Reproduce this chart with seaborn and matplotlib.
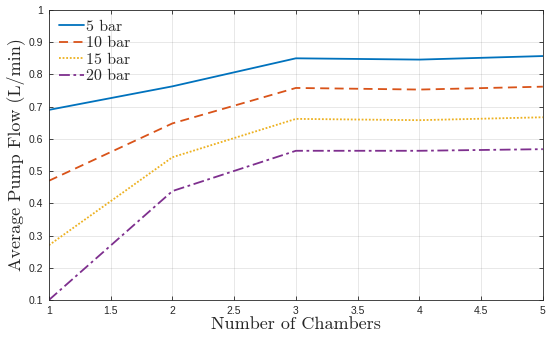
import matplotlib
matplotlib.use("Agg")
import matplotlib.pyplot as plt
import seaborn as sns
import pandas as pd

# data
chambers = [1, 2, 3, 4, 5]
flow_5bar = [0.69, 0.763, 0.850, 0.846, 0.857]
flow_10bar = [0.470, 0.648, 0.758, 0.753, 0.762]
flow_15bar = [0.270, 0.543, 0.662, 0.658, 0.667]
flow_20bar = [0.100, 0.438, 0.563, 0.563, 0.568]
series_names = ["5 bar", "10 bar", "15 bar", "20 bar"]

df = pd.DataFrame({
    "chambers": chambers * 4,
    "flow": flow_5bar + flow_10bar + flow_15bar + flow_20bar,
    "pressure": [n for n in series_names for _ in chambers],
})

sns.set_theme(style="whitegrid")
plt.rcParams["font.family"] = ["Liberation Sans", "DejaVu Sans"]

colors = ["#0072BD", "#D95319", "#EDB120", "#7E2F8E"]
palette = dict(zip(series_names, colors))
dashes = dict(zip(series_names, ["", (5, 3), (1, 1), (6, 2, 1.5, 2)]))

fig = plt.figure(figsize=(5.5, 3.44), dpi=100)
ax = fig.add_axes([0.089, 0.128, 0.898, 0.843])
sns.lineplot(data=df, x="chambers", y="flow", hue="pressure", style="pressure",
             palette=palette, dashes=dashes, linewidth=1.3, ax=ax)

ax.set_xlim(1, 5)
ax.set_ylim(0.1, 1.0)
ax.set_xticks([1, 1.5, 2, 2.5, 3, 3.5, 4, 4.5, 5])
ax.set_xticklabels(["1", "1.5", "2", "2.5", "3", "3.5", "4", "4.5", "5"])
ax.set_yticks([0.1, 0.2, 0.3, 0.4, 0.5, 0.6, 0.7, 0.8, 0.9, 1.0])
ax.set_yticklabels(["0.1", "0.2", "0.3", "0.4", "0.5", "0.6", "0.7", "0.8", "0.9", "1"])

ax.set_facecolor("white")
ax.grid(True, color="#262626", alpha=0.12, linewidth=0.6)
for side in ax.spines.values():
    side.set_visible(True)
    side.set_color("#262626")
    side.set_linewidth(0.6)
ax.tick_params(direction="in", length=3, width=0.6, color="#262626",
               labelsize=7.5, labelcolor="#262626", top=True, right=True,
               bottom=True, left=True, pad=4)

ax.set_xlabel("Number of Chambers", fontname="cmr10", fontsize=13, color="#262626", labelpad=1)
ax.set_ylabel("Average Pump Flow (L/min)", fontname="cmr10", fontsize=13, color="#262626", labelpad=3)

leg = ax.legend(loc="upper left", frameon=False, prop={"family": "cmr10", "size": 11.5},
                handlelength=1.6, handletextpad=0.15, labelspacing=0.15,
                borderaxespad=0.2)
for t in leg.get_texts():
    t.set_color("#262626")

fig.savefig("out.png", dpi=100)
